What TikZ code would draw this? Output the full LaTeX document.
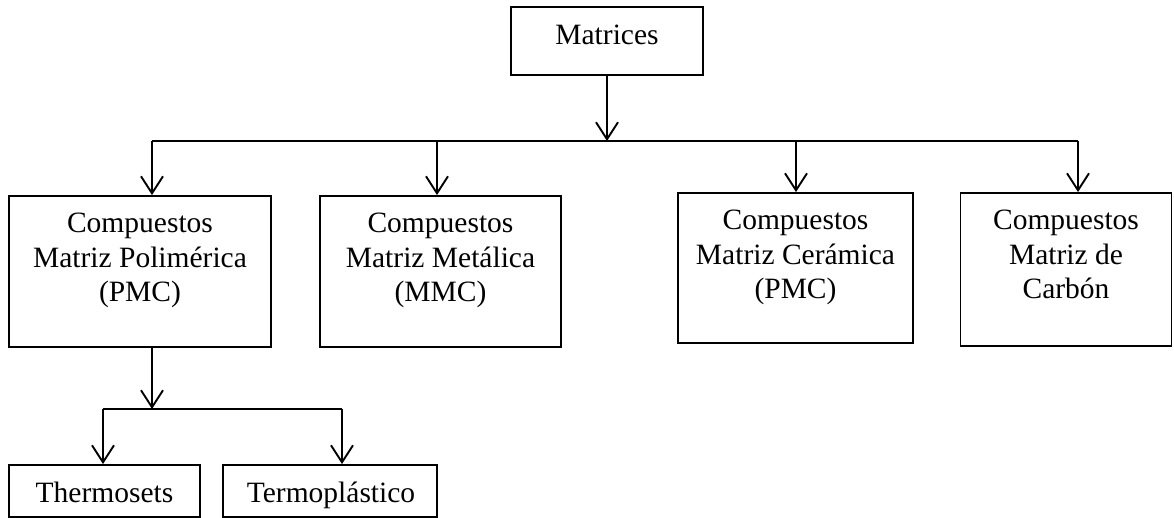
\documentclass[tikz,border=0pt]{standalone}
\usepackage{fontspec}
\setmainfont{Liberation Serif}
\usetikzlibrary{arrows.meta}
\begin{document}
\begin{tikzpicture}[x=1pt,y=-1pt,
  box/.style={draw, line width=1.9pt, inner sep=0pt},
  lbl/.style={font=\fontsize{29.5}{34.5}\selectfont, align=center, inner sep=0pt},
  link/.style={line width=1.9pt},
  arr/.style={line width=1.9pt, -{Straight Barb[length=17pt,width=22pt,line width=1.9pt]}}
]
\useasboundingbox (0,0) rectangle (1174,518);

% boxes
\node[box, minimum width=192pt, minimum height=68pt]  (mat) at (607,41) {};
\node[box, minimum width=262pt, minimum height=151pt] (pmc) at (140,271.5) {};
\node[box, minimum width=241pt, minimum height=151pt] (mmc) at (440.5,271.5) {};
\node[box, minimum width=235pt, minimum height=150pt] (cmc) at (795.5,268) {};
\node[box, minimum width=211pt, minimum height=153pt] (ccc) at (1066,269.5) {};
\node[box, minimum width=191pt, minimum height=52pt]  (ths) at (104.5,491) {};
\node[box, minimum width=214pt, minimum height=52pt]  (tpl) at (330,491) {};

% texts
\node[lbl, anchor=base]  (tmat) at (607,45) {Matrices};
\node[lbl, anchor=north] (tpmc) at (140,213) {Compuestos\\Matriz Polimérica\\(PMC)};
\node[lbl, anchor=north] (tmmc) at (440.5,213) {Compuestos\\Matriz Metálica\\(MMC)};
\node[lbl, anchor=north] (tcmc) at (795.5,210) {Compuestos\\Matriz Cerámica\\(PMC)};
\node[lbl, anchor=north] (tccc) at (1066,210) {Compuestos\\Matriz de\\Carbón};
\node[lbl, anchor=base]  (tths) at (104.5,502) {Thermosets};
\node[lbl, anchor=base]  (ttpl) at (331,502) {Termoplástico};

% upper bus
\coordinate (busL) at (152,141);
\coordinate (busR) at (1078,141);
\coordinate (busB) at (437,141);
\coordinate (busC) at (796,141);
\draw[arr] (mat.south) -- (mat.south |- busL);
\draw[link] (busL) -- (busR);
\draw[arr] (busL) -- (busL |- pmc.north);
\draw[arr] (busB) -- (busB |- mmc.north);
\draw[arr] (busC) -- (busC |- cmc.north);
\draw[arr] (busR) -- (busR |- ccc.north);

% lower bus
\coordinate (drop) at (152,347);
\coordinate (subL) at (103,409);
\coordinate (subR) at (342,409);
\draw[arr] (drop) -- (drop |- subL);
\draw[link] (subL) -- (subR);
\draw[arr] (subL) -- (subL |- ths.north);
\draw[arr] (subR) -- (subR |- tpl.north);
\end{tikzpicture}
\end{document}
